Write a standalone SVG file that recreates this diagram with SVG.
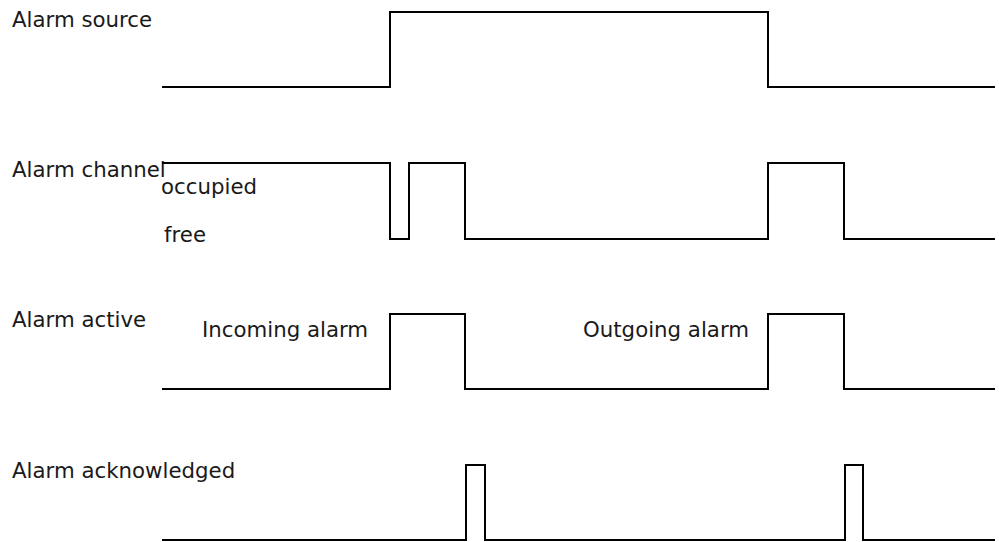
<svg xmlns="http://www.w3.org/2000/svg" width="999" height="542" viewBox="0 0 999 542">
<style>
.sig{fill:none;stroke:#000;stroke-width:2;stroke-linejoin:miter;stroke-linecap:butt}
.lbl{font-family:"DejaVu Sans","Liberation Sans",sans-serif;font-size:21.3px;fill:#1a1a1a}
</style>
<rect width="999" height="542" fill="#fff"/>
<g id="labels">
<text class="lbl" x="12" y="27">Alarm source</text>
<text class="lbl" x="12" y="177">Alarm channel</text>
<text class="lbl" x="161" y="194">occupied</text>
<text class="lbl" x="164" y="242">free</text>
<text class="lbl" x="12" y="327">Alarm active</text>
<text class="lbl" x="202" y="337">Incoming alarm</text>
<text class="lbl" x="583" y="337">Outgoing alarm</text>
<text class="lbl" x="12" y="478">Alarm acknowledged</text>
</g>
<g id="connectors">
<polyline id="source" class="sig" points="162,87 390,87 390,12 768,12 768,87 995,87"/>
<polyline id="channel" class="sig" points="162,163 390,163 390,239 409,239 409,163 465,163 465,239 768,239 768,163 844,163 844,239 995,239"/>
<polyline id="active" class="sig" points="162,389 390,389 390,314 465,314 465,389 768,389 768,314 844,314 844,389 995,389"/>
<polyline id="ack" class="sig" points="162,540 466,540 466,465 485,465 485,540 845,540 845,465 863,465 863,540 995,540"/>
</g>
</svg>
